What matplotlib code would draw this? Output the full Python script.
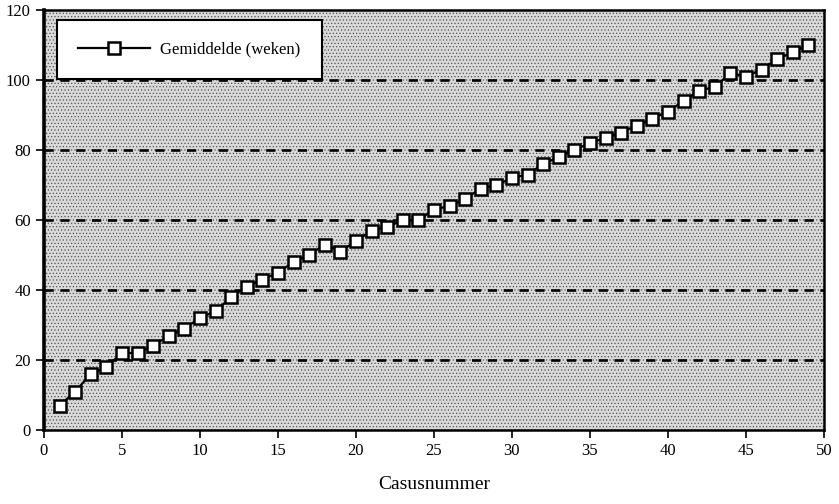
import numpy as np
import matplotlib
matplotlib.use('Agg')
import matplotlib.pyplot as plt
from matplotlib.patches import Rectangle

plt.rcParams['font.family'] = ['Liberation Serif', 'DejaVu Serif']
plt.rcParams['hatch.linewidth'] = 0.5

# gemiddelde duur per casus (weken)
casus = np.arange(1, 50)
gemiddelde = [7, 11, 16, 18, 22, 22, 24, 27, 29, 32,
              34, 38, 41, 43, 45, 48, 50, 53, 51, 54,
              57, 58, 60, 60, 63, 64, 66, 69, 70, 72,
              73, 76, 78, 80, 82, 83.5, 85, 87, 89, 91,
              94, 97, 98, 102, 101, 103, 106, 108, 110]
xticks = np.arange(0, 51, 5)
yticks = np.arange(0, 121, 20)

fig = plt.figure(figsize=(8.39, 5.04), dpi=100)
ax = fig.add_axes([0.0524, 0.1468, 0.9296, 0.8333])

# gestippelde achtergrond
ax.set_facecolor('#d9d9d9')
ax.add_patch(Rectangle((0, 0), 1, 1, transform=ax.transAxes, facecolor='none',
                       edgecolor='#555555', linewidth=0, hatch='.....', zorder=0))

for yv in yticks[1:-1]:
    ax.axhline(yv, color='black', linestyle=(0, (3.5, 2.5)), linewidth=1.9, zorder=1)

ax.plot(casus, gemiddelde, color='black', linewidth=1.6, marker='s',
        markersize=8.5, markerfacecolor='white', markeredgecolor='black',
        markeredgewidth=1.8, label='Gemiddelde (weken)', zorder=3)

ax.set_xlim(0, 50)
ax.set_ylim(0, 120)
ax.set_xticks(xticks)
ax.set_yticks(yticks)
ax.tick_params(direction='out', length=6, width=1.2, labelsize=12)
ax.set_xlabel('Casusnummer', fontsize=14, labelpad=12)
for s in ax.spines.values():
    s.set_linewidth(1.8)
ax.spines['left'].set_linewidth(2.6)

leg = ax.legend(loc='upper left', bbox_to_anchor=(0.01, 0.988), fontsize=12,
                handlelength=4.3, handletextpad=0.6, borderpad=1.3,
                fancybox=False, framealpha=1, edgecolor='black',
                borderaxespad=0.3)
leg.get_frame().set_linewidth(1.5)

fig.savefig('out.png', dpi=100)
